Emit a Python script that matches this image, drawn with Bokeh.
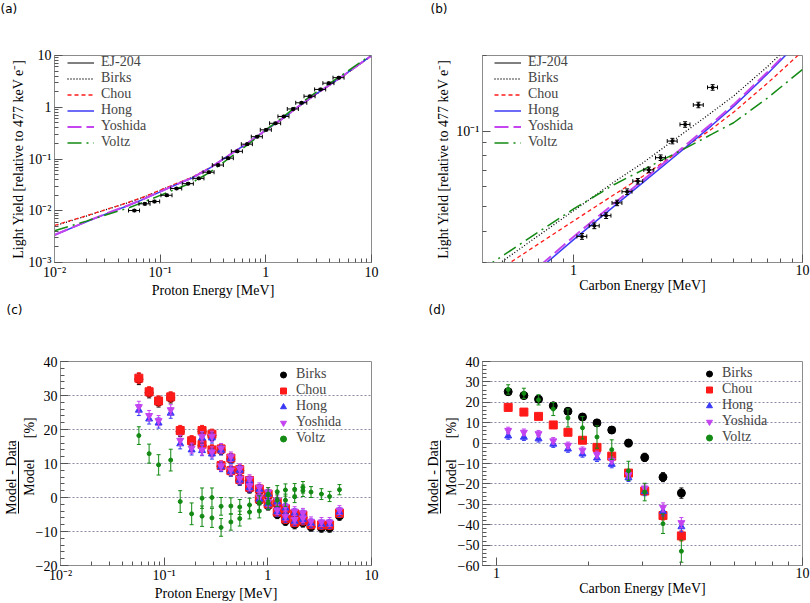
import math
from bokeh.plotting import figure
from bokeh.layouts import column, row
from bokeh.models import (FixedTicker, Legend, LegendItem, Range1d, LinearAxis)
from bokeh.embed import file_html
from bokeh.resources import INLINE

SERIF = "Liberation Serif"
SANS = "DejaVu Sans"
FRAME = "#8c8c8c"
TICK = "#555555"
NB = "\u00a0"

C_BIRKS = "#000000"
C_CHOU = "#ff1a1a"
C_HONG = "#3a3af5"
C_YOSH = "#c444f0"
C_VOLTZ = "#138a13"

# ---------------- (a) proton light yield ----------------
proton_energy = [0.057, 0.0716, 0.0883, 0.1156, 0.1428, 0.184, 0.232, 0.289, 0.354, 0.440, 0.536,
                 0.666, 0.828, 1.007, 1.233, 1.479, 1.814, 2.18, 2.61, 3.29, 3.94, 4.91]
proton_ly = [0.0101, 0.0136, 0.0151, 0.0199, 0.0269, 0.0334, 0.0422, 0.0555, 0.0764, 0.1037, 0.1406,
             0.1935, 0.270, 0.366, 0.490, 0.664, 0.927, 1.22, 1.63, 2.21, 2.92, 3.73]
proton_energy_err = [0.0068, 0.0086, 0.0106, 0.0139, 0.0171, 0.0221, 0.0278, 0.0347, 0.0425, 0.0528, 0.0643,
                     0.0799, 0.0994, 0.121, 0.148, 0.177, 0.218, 0.262, 0.313, 0.395, 0.473, 0.589]
proton_ly_err = [0.0005, 0.0007, 0.0008, 0.0010, 0.0013, 0.0016, 0.0021, 0.0027, 0.0037, 0.0050, 0.0068,
                 0.0094, 0.013, 0.018, 0.024, 0.032, 0.045, 0.059, 0.079, 0.107, 0.142, 0.181]

proton_curve_energy = [0.01, 0.02, 0.03, 0.05, 0.07, 0.1, 0.15, 0.2, 0.3, 0.5, 0.7, 1.0, 1.5, 2.0, 3.0, 5.0, 7.0, 10.0]
proton_birks = [0.0051, 0.0079, 0.0103, 0.0144, 0.0184, 0.0248, 0.0347, 0.0438, 0.0684, 0.1355, 0.213, 0.357, 0.635, 0.995, 1.79, 3.60, 5.88, 9.85]
proton_chou = [0.0052, 0.0080, 0.0104, 0.0145, 0.0185, 0.0250, 0.0350, 0.0442, 0.0690, 0.137, 0.215, 0.360, 0.640, 1.00, 1.80, 3.62, 5.90, 9.90]
proton_hong = [0.0034, 0.0061, 0.0085, 0.0126, 0.0168, 0.0232, 0.0335, 0.0428, 0.0680, 0.137, 0.215, 0.361, 0.643, 1.01, 1.81, 3.65, 5.95, 9.90]
proton_yoshida = [0.0034, 0.0062, 0.0086, 0.0128, 0.0170, 0.0235, 0.0338, 0.0432, 0.0685, 0.1375, 0.2155, 0.362, 0.645, 1.012, 1.82, 3.66, 5.96, 9.95]
proton_voltz = [0.0041, 0.0063, 0.0082, 0.0113, 0.0148, 0.0198, 0.0276, 0.0350, 0.0565, 0.122, 0.200, 0.364, 0.680, 1.09, 1.96, 3.90, 6.30, 10.4]

# ---------------- (b) carbon light yield ----------------
carbon_energy = [1.088, 1.232, 1.387, 1.549, 1.713, 1.909, 2.133, 2.40, 2.70, 3.07, 3.51, 4.05]
carbon_ly = [0.0381, 0.0420, 0.0461, 0.0518, 0.0574, 0.0632, 0.0701, 0.0784, 0.0913, 0.1063, 0.1271, 0.1493]
carbon_energy_err = [0.054, 0.062, 0.069, 0.077, 0.086, 0.095, 0.107, 0.120, 0.135, 0.154, 0.176, 0.203]
carbon_ly_err = [0.0010, 0.0011, 0.0012, 0.0013, 0.0015, 0.0016, 0.0018, 0.0020, 0.0023, 0.0027, 0.0032, 0.0038]

carbon_curve_energy = [0.4, 0.5, 0.7, 1.0, 1.5, 2.0, 3.0, 4.0, 5.0, 7.0, 10.0]
carbon_birks = [0.0267, 0.0308, 0.0383, 0.0482, 0.0627, 0.0746, 0.0978, 0.1185, 0.138, 0.180, 0.245]
carbon_chou = [0.0253, 0.0290, 0.0355, 0.0439, 0.0558, 0.0660, 0.0850, 0.1018, 0.1189, 0.1546, 0.208]
carbon_hong = [0.0181, 0.0215, 0.0280, 0.0370, 0.0502, 0.0622, 0.0843, 0.1050, 0.1254, 0.1685, 0.2347]
carbon_yoshida = [0.0186, 0.0221, 0.0287, 0.0380, 0.0515, 0.0636, 0.0860, 0.1070, 0.1275, 0.1710, 0.2380]
carbon_voltz = [0.0282, 0.0323, 0.0396, 0.0490, 0.0612, 0.0700, 0.0845, 0.0970, 0.108, 0.135, 0.176]

# ---------------- (c) proton residuals [%] ----------------
res_p_energy = [0.057, 0.0716, 0.0883, 0.1156, 0.1428, 0.184, 0.232, 0.232, 0.289, 0.289, 0.354, 0.354,
                0.440, 0.440, 0.536, 0.536, 0.666, 0.666, 0.828, 0.828, 1.007, 1.007, 1.233, 1.233,
                1.479, 1.479, 1.814, 1.814, 2.18, 2.18, 2.61, 3.29, 3.94, 4.91]
res_p_birks = [34.8, 30.8, 28.1, 29.3, 19.4, 16.4, 19.4, 15.3, 18.3, 13.7, 14.0, 9.2,
               11.3, 7.7, 7.9, 5.0, 4.6, 2.6, 2.0, -0.9, 0.5, -2.4, -2.0, -4.9,
               -3.9, -6.9, -5.4, -7.9, -5.8, -7.4, -8.6, -8.9, -8.9, -5.4]
res_p_chou = [35.1, 31.1, 28.4, 29.6, 19.7, 16.7, 19.7, 15.6, 18.6, 14.0, 14.3, 9.4,
              11.6, 7.9, 8.2, 5.3, 5.0, 3.0, 2.5, -0.4, 1.0, -1.9, -1.4, -4.3,
              -3.3, -6.3, -4.8, -7.3, -5.2, -6.8, -7.9, -8.1, -8.1, -4.6]
res_p_hong = [25.7, 23.1, 21.9, 24.8, 15.8, 14.0, 17.5, 13.8, 17.5, 12.8, 13.9, 9.0,
              11.4, 7.7, 8.0, 5.1, 4.8, 2.9, 2.4, -0.5, 1.0, -1.9, -1.3, -4.2,
              -3.1, -6.0, -4.6, -7.0, -5.0, -6.5, -7.6, -7.9, -7.8, -4.3]
res_p_yoshida = [26.7, 24.1, 22.6, 25.8, 16.8, 14.5, 17.9, 14.0, 18.0, 13.4, 14.5, 9.3,
                 12.0, 8.1, 8.5, 5.6, 5.4, 3.4, 3.0, 0.1, 1.6, -1.3, -0.8, -3.7,
                 -2.6, -5.5, -4.0, -6.5, -4.5, -6.0, -7.0, -7.2, -7.2, -3.7]
res_p_voltz = [18.2, 12.9, 9.6, 11.0, -1.2, -4.8, -0.2, -5.5, 0.0, -6.0, -2.6, -8.8,
               -2.5, -7.2, -2.8, -6.2, -2.2, -4.3, -1.5, -4.0, 1.0, -1.6, 1.7, -0.8,
               2.2, -0.8, 2.4, 0.2, 3.0, 2.0, 1.6, 1.0, 0.3, 2.3]
res_p_err = [1.6, 1.5, 1.5, 1.5, 1.5, 1.5, 1.5, 1.5, 1.5, 1.5, 1.4, 1.4,
             1.4, 1.4, 1.4, 1.4, 1.3, 1.3, 1.3, 1.3, 1.3, 1.3, 1.3, 1.3,
             1.3, 1.3, 1.3, 1.3, 1.3, 1.3, 1.3, 1.3, 1.3, 1.3]
res_p_voltz_err = [2.6, 2.8, 3.0, 3.2, 3.2, 3.2, 3.0, 3.0, 2.8, 2.8, 2.6, 2.6,
                   2.4, 2.4, 2.2, 2.2, 2.0, 2.0, 2.0, 2.0, 1.9, 1.9, 1.8, 1.8,
                   1.8, 1.8, 1.7, 1.7, 1.7, 1.7, 1.6, 1.6, 1.5, 1.5]

# ---------------- (d) carbon residuals [%] ----------------
res_c_energy = [1.092, 1.229, 1.372, 1.533, 1.712, 1.910, 2.130, 2.380, 2.700, 3.050, 3.500, 4.020]
res_c_birks = [25.2, 23.3, 21.5, 18.3, 15.6, 12.8, 9.9, 6.4, 0.0, -7.0, -16.7, -24.5]
res_c_chou = [17.5, 15.2, 13.1, 8.9, 5.3, 1.4, -2.1, -6.4, -14.7, -23.5, -35.5, -45.5]
res_c_hong = [3.5, 2.9, 2.1, -0.5, -2.9, -5.3, -7.3, -10.4, -17.0, -23.8, -33.5, -41.0]
res_c_yoshida = [6.2, 5.3, 4.6, 1.1, -1.1, -3.5, -5.6, -8.5, -15.5, -22.0, -31.5, -39.0]
res_c_voltz = [26.3, 24.4, 21.2, 16.7, 12.3, 7.5, 3.0, -3.2, -13.6, -24.0, -39.5, -53.0]
res_c_err = [1.6, 1.6, 1.6, 1.6, 1.6, 1.6, 1.7, 1.7, 1.8, 2.0, 2.2, 2.5]
res_c_voltz_err = [2.3, 2.5, 2.5, 3.2, 4.4, 5.5, 5.5, 4.8, 4.7, 4.3, 4.8, 5.4]

MODEL_NAMES = ["Birks", "Chou", "Hong", "Yoshida", "Voltz"]


# ---------------- helpers ----------------
def style_axis(ax, label_standoff=0):
    ax.major_tick_in = 8
    ax.major_tick_out = 0
    ax.minor_tick_in = 4
    ax.minor_tick_out = 0
    ax.axis_line_color = FRAME
    ax.major_tick_line_color = TICK
    ax.minor_tick_line_color = TICK
    ax.major_label_text_font = SERIF
    ax.major_label_text_font_size = "14px"
    ax.major_label_text_color = "black"
    ax.major_label_text_line_height = 1.0
    ax.axis_label_text_font = SERIF
    ax.axis_label_text_font_size = "14px"
    ax.axis_label_text_font_style = "normal"
    ax.axis_label_text_color = "black"
    ax.axis_label_text_line_height = 1.0
    ax.major_label_standoff = 3
    ax.axis_label_standoff = label_standoff


def make_fig(w, h, xr, yr, ylog, borders, ylab_standoff):
    p = figure(width=w, height=h, x_axis_type="log", y_axis_type=("log" if ylog else "linear"),
               x_range=Range1d(*xr), y_range=Range1d(*yr), output_backend="svg",
               toolbar_location=None, min_border_left=borders[0], min_border_right=borders[1],
               min_border_top=borders[2], min_border_bottom=borders[3])
    p.outline_line_color = FRAME
    p.outline_line_alpha = 1.0
    p.background_fill_color = "white"
    p.border_fill_color = "white"
    style_axis(p.xaxis[0], 0)
    p.xaxis[0].major_label_standoff = 2
    style_axis(p.yaxis[0], ylab_standoff)
    return p


def panel_tag(p, text, offset, line_height):
    # panel letter as a left-aligned title; two blank lines below it lift it to the top corner
    p.title.text = text + "\n" + NB + "\n" + NB
    p.title.align = "left"
    p.title.offset = offset
    p.title.text_font = SANS
    p.title.text_font_size = "12px"
    p.title.text_font_style = "normal"
    p.title.text_color = "black"
    p.title.text_line_height = line_height
    try:
        p.title.standoff = 0
    except AttributeError:
        pass


def log_minor(decades, start=2, stop=10):
    return [m * 10.0 ** k for k in decades for m in range(start, stop)]


def draw_ly_data(p, xs, ys, xe, ye):
    xlo = [a - b for a, b in zip(xs, xe)]
    xhi = [a + b for a, b in zip(xs, xe)]
    ylo = [a - b for a, b in zip(ys, ye)]
    yhi = [a + b for a, b in zip(ys, ye)]
    hbar = p.segment(x0=xlo, y0=ys, x1=xhi, y1=ys, line_color="black", line_width=1)
    p.segment(x0=xs, y0=ylo, x1=xs, y1=yhi, line_color="black", line_width=1)
    p.scatter(x=xs + xs, y=ylo + yhi, marker="dash", size=4, line_color="black")
    p.scatter(x=xlo + xhi, y=ys + ys, marker="dash", angle=math.pi / 2, size=4, line_color="black")
    p.scatter(x=xs, y=ys, marker="circle", size=3, fill_color="black", line_color="black")
    vleg = p.scatter(x=[], y=[], marker="dash", angle=math.pi / 2, size=10, line_color="black", line_width=1)
    return [hbar, vleg]


def draw_curves(p, xs, series):
    out = []
    specs = [(C_BIRKS, "1 2", 1.3), (C_CHOU, "4 3", 1.3), (C_HONG, "solid", 1.5),
             (C_YOSH, "14 5", 2.0), (C_VOLTZ, "14 5 2 5", 1.5)]
    for ys, (col, dash, lw) in zip(series, specs):
        out.append(p.line(xs, ys, line_color=col, line_dash=dash, line_width=lw))
    return out


def ly_legend(p, data_r, curve_r, loc):
    items = [LegendItem(label="EJ-204", renderers=data_r)]
    items += [LegendItem(label=n, renderers=[r]) for n, r in zip(MODEL_NAMES, curve_r)]
    leg = Legend(items=items, location=loc, border_line_color=None, background_fill_alpha=0,
                 label_text_font=SERIF, label_text_font_size="14px", label_text_line_height=1.0,
                 glyph_width=27, glyph_height=15, label_height=15, label_standoff=7,
                 spacing=-3, padding=5, margin=0)
    p.add_layout(leg)


def draw_residuals(p, xs, series, errs, voltz_err):
    markers = [("circle", C_BIRKS, 8), ("square", C_CHOU, 8), ("triangle", C_HONG, 7),
               ("inverted_triangle", C_YOSH, 7), ("circle", C_VOLTZ, 4)]
    rends = []
    for i, (ys, (mk, col, sz)) in enumerate(zip(series, markers)):
        ee = voltz_err if i == 4 else errs
        lo = [a - b for a, b in zip(ys, ee)]
        hi = [a + b for a, b in zip(ys, ee)]
        p.segment(x0=xs, y0=lo, x1=xs, y1=hi, line_color=col, line_width=1.2, line_alpha=0.85)
        p.scatter(x=xs + xs, y=lo + hi, marker="dash", size=4, line_color=col)
        rends.append(p.scatter(x=xs, y=ys, marker=mk, size=sz, fill_color=col, line_color=col))
    return rends


def res_legend(p, rends, loc, spacing):
    items = [LegendItem(label=n, renderers=[r]) for n, r in zip(MODEL_NAMES, rends)]
    leg = Legend(items=items, location=loc, border_line_color=None, background_fill_alpha=0,
                 label_text_font=SERIF, label_text_font_size="14px", label_text_line_height=1.0,
                 glyph_width=16, glyph_height=15, label_height=15, label_standoff=5,
                 spacing=spacing, padding=3, margin=0)
    p.add_layout(leg)


def fraction_ylabel(p, bar_bounds):
    # denominator (+ unit) on the main axis, numerator on an extra axis whose line is the fraction bar
    p.yaxis[0].axis_label = NB * 4 + "Model" + NB * 6 + "[%]"
    num = LinearAxis(bounds=bar_bounds, ticker=FixedTicker(ticks=[], minor_ticks=[]),
                     axis_label="Model - Data" + NB * 8)
    style_axis(num, 0)
    num.axis_line_color = "black"
    num.axis_line_width = 1
    num.major_tick_line_color = None
    num.minor_tick_line_color = None
    num.major_label_standoff = 0
    p.add_layout(num, "left")


LOG_LABELS = {0.001: "10\u207b\u00b3", 0.01: "10\u207b\u00b2", 0.1: "10\u207b\u00b9", 1: "1", 10: "10"}
RES_GRID = "#8a8aa8"

# ---------------- panel (a) ----------------
pa = make_fig(405, 300, (0.01, 10), (0.001, 10), True, (54, 34, 53, 36), -1)
pa.xaxis[0].ticker = FixedTicker(ticks=[0.01, 0.1, 1, 10], minor_ticks=log_minor([-2, -1, 0]))
pa.yaxis[0].ticker = FixedTicker(ticks=[0.001, 0.01, 0.1, 1, 10], minor_ticks=log_minor([-3, -2, -1, 0]))
pa.xaxis[0].major_label_overrides = LOG_LABELS
pa.yaxis[0].major_label_overrides = LOG_LABELS
pa.xgrid.visible = False
pa.ygrid.visible = False
pa.xaxis[0].axis_label = "Proton Energy [MeV]"
pa.yaxis[0].axis_label = "Light Yield [relative to 477 keV e\u207b]"
curves_a = draw_curves(pa, proton_curve_energy,
                       [proton_birks, proton_chou, proton_hong, proton_yoshida, proton_voltz])
data_a = draw_ly_data(pa, proton_energy, proton_ly, proton_energy_err, proton_ly_err)
ly_legend(pa, data_a, curves_a, (13, 112))
panel_tag(pa, "(a)", -54, 1.4)

# ---------------- panel (b) ----------------
pb = make_fig(405, 300, (0.4, 10), (0.03, 0.2), True, (77, 8, 53, 38), 2)
pb.xaxis[0].ticker = FixedTicker(ticks=[1, 10], minor_ticks=log_minor([-1], 5, 10) + log_minor([0]))
pb.yaxis[0].ticker = FixedTicker(ticks=[0.1], minor_ticks=log_minor([-2], 3, 10) + [0.2])
pb.xaxis[0].major_label_overrides = LOG_LABELS
pb.yaxis[0].major_label_overrides = LOG_LABELS
pb.xgrid.visible = False
pb.ygrid.visible = False
pb.xaxis[0].axis_label = "Carbon Energy [MeV]"
pb.yaxis[0].axis_label = "Light Yield [relative to 477 keV e\u207b]"
curves_b = draw_curves(pb, carbon_curve_energy,
                       [carbon_birks, carbon_chou, carbon_hong, carbon_yoshida, carbon_voltz])
data_b = draw_ly_data(pb, carbon_energy, carbon_ly, carbon_energy_err, carbon_ly_err)
ly_legend(pb, data_b, curves_b, (12, 112))
panel_tag(pb, "(b)", -52, 1.4)

# ---------------- panel (c) ----------------
pc = make_fig(405, 303, (0.01, 10), (-20, 40), False, (54, 34, 60, 35), -4)
pc.xaxis[0].ticker = FixedTicker(ticks=[0.01, 0.1, 1, 10], minor_ticks=log_minor([-2, -1, 0]))
pc.xaxis[0].major_label_overrides = LOG_LABELS
yt_c = FixedTicker(ticks=[-20, -10, 0, 10, 20, 30, 40], minor_ticks=list(range(-20, 41, 2)))
pc.yaxis[0].ticker = yt_c
pc.ygrid[0].ticker = yt_c
pc.xgrid.visible = False
pc.ygrid.grid_line_color = RES_GRID
pc.ygrid.grid_line_dash = "2 2"
pc.ygrid.grid_line_width = 1
pc.xaxis[0].axis_label = "Proton Energy [MeV]"
rend_c = draw_residuals(pc, res_p_energy, [res_p_birks, res_p_chou, res_p_hong, res_p_yoshida, res_p_voltz],
                        res_p_err, res_p_voltz_err)
res_legend(pc, rend_c, (215, 119), -3)
fraction_ylabel(pc, (-4.7, 16.6))
panel_tag(pc, "(c)", -54, 1.6)

# ---------------- panel (d) ----------------
pd_ = make_fig(405, 303, (0.9, 10), (-60, 40), False, (77, 8, 60, 35), -4)
pd_.xaxis[0].ticker = FixedTicker(ticks=[1, 10], minor_ticks=log_minor([0]))
pd_.xaxis[0].major_label_overrides = LOG_LABELS
yt_d = FixedTicker(ticks=list(range(-60, 41, 10)), minor_ticks=list(range(-60, 41, 2)))
pd_.yaxis[0].ticker = yt_d
pd_.ygrid[0].ticker = yt_d
pd_.xgrid.visible = False
pd_.ygrid.grid_line_color = RES_GRID
pd_.ygrid.grid_line_dash = "2 2"
pd_.ygrid.grid_line_width = 1
pd_.xaxis[0].axis_label = "Carbon Energy [MeV]"
rend_d = draw_residuals(pd_, res_c_energy, [res_c_birks, res_c_chou, res_c_hong, res_c_yoshida, res_c_voltz],
                        res_c_err, res_c_voltz_err)
res_legend(pd_, rend_d, (219, 120), -1)
fraction_ylabel(pd_, (-34.5, 1.1))
panel_tag(pd_, "(d)", -54, 1.6)

layout = column(row(pa, pb), row(pc, pd_))
open("out.html", "w").write(file_html(layout, INLINE))
